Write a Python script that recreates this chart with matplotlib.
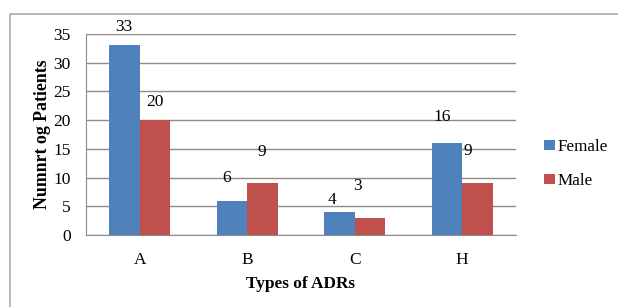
import matplotlib
matplotlib.use("Agg")
import matplotlib.pyplot as plt
from matplotlib.patches import Rectangle
import numpy as np

categories = ["A", "B", "C", "H"]
female = [33, 6, 4, 16]
male = [20, 9, 3, 9]
yticks = [0, 5, 10, 15, 20, 25, 30, 35]

plt.rcParams['font.family'] = ['Liberation Serif', 'DejaVu Serif']
plt.rcParams['font.size'] = 12

fig = plt.figure(figsize=(6.18, 3.07), dpi=100)
# outer chart border
fig.patches.append(Rectangle((10/618, -0.1), 1.1, 1 - 14/307 + 0.1, transform=fig.transFigure,
                             fill=False, edgecolor='#a6a6a6', linewidth=1.1))

ax = fig.add_axes([86/618, 1 - 235/307, (516-86)/618, (235-34)/307])
x = np.arange(len(categories))
w = 0.285
blue = '#4F81BD'
red = '#C0504D'
bf = ax.bar(x - w/2, female, w, color=blue, label='Female', zorder=3)
bm = ax.bar(x + w/2, male, w, color=red, label='Male', zorder=3)

ax.set_xlim(-0.5, 3.5)
ax.set_ylim(0, 35)
ax.set_yticks(yticks)
ax.set_xticks(x)
ax.set_xticklabels(categories)
ax.yaxis.grid(True, color='#8c8c8c', linewidth=1.0, zorder=0)
ax.set_axisbelow(True)
for s in ['top', 'right']:
    ax.spines[s].set_visible(False)
ax.spines['left'].set_color('#8c8c8c')
ax.spines['bottom'].set_color('#8c8c8c')
ax.tick_params(axis='both', length=0, labelsize=12.5)
ax.tick_params(axis='y', pad=11)
ax.tick_params(axis='x', pad=12)

ax.set_ylabel('Numnrt og Patients', fontweight='bold', fontsize=12.8, labelpad=2)
ax.set_xlabel('Types of ADRs', fontweight='bold', fontsize=12.4, labelpad=6)

# value labels with offsets (pixels) mimicking the reference placement
f_off = [(-1, 18), (-5, 23), (-7, 12), (-5, 26)]
m_off = [(0, 18), (-1, 31), (-13, 32), (-10, 32)]
for i in range(len(categories)):
    ax.annotate(str(female[i]), (x[i] - w/2, female[i]), xytext=(f_off[i][0]*0.72, f_off[i][1]*0.72),
                textcoords='offset points', ha='center', va='center', fontsize=12.5)
    ax.annotate(str(male[i]), (x[i] + w/2, male[i]), xytext=(m_off[i][0]*0.72, m_off[i][1]*0.72),
                textcoords='offset points', ha='center', va='center', fontsize=12.5)

fig.legend(handles=[bf, bm], labels=['Female', 'Male'], loc='center left',
           bbox_to_anchor=(529/618, 1 - 164/307), frameon=False,
           handlelength=0.6, handleheight=0.6, handletextpad=0.2,
           labelspacing=1.05, fontsize=12.3)

fig.savefig('out.png', dpi=100)
